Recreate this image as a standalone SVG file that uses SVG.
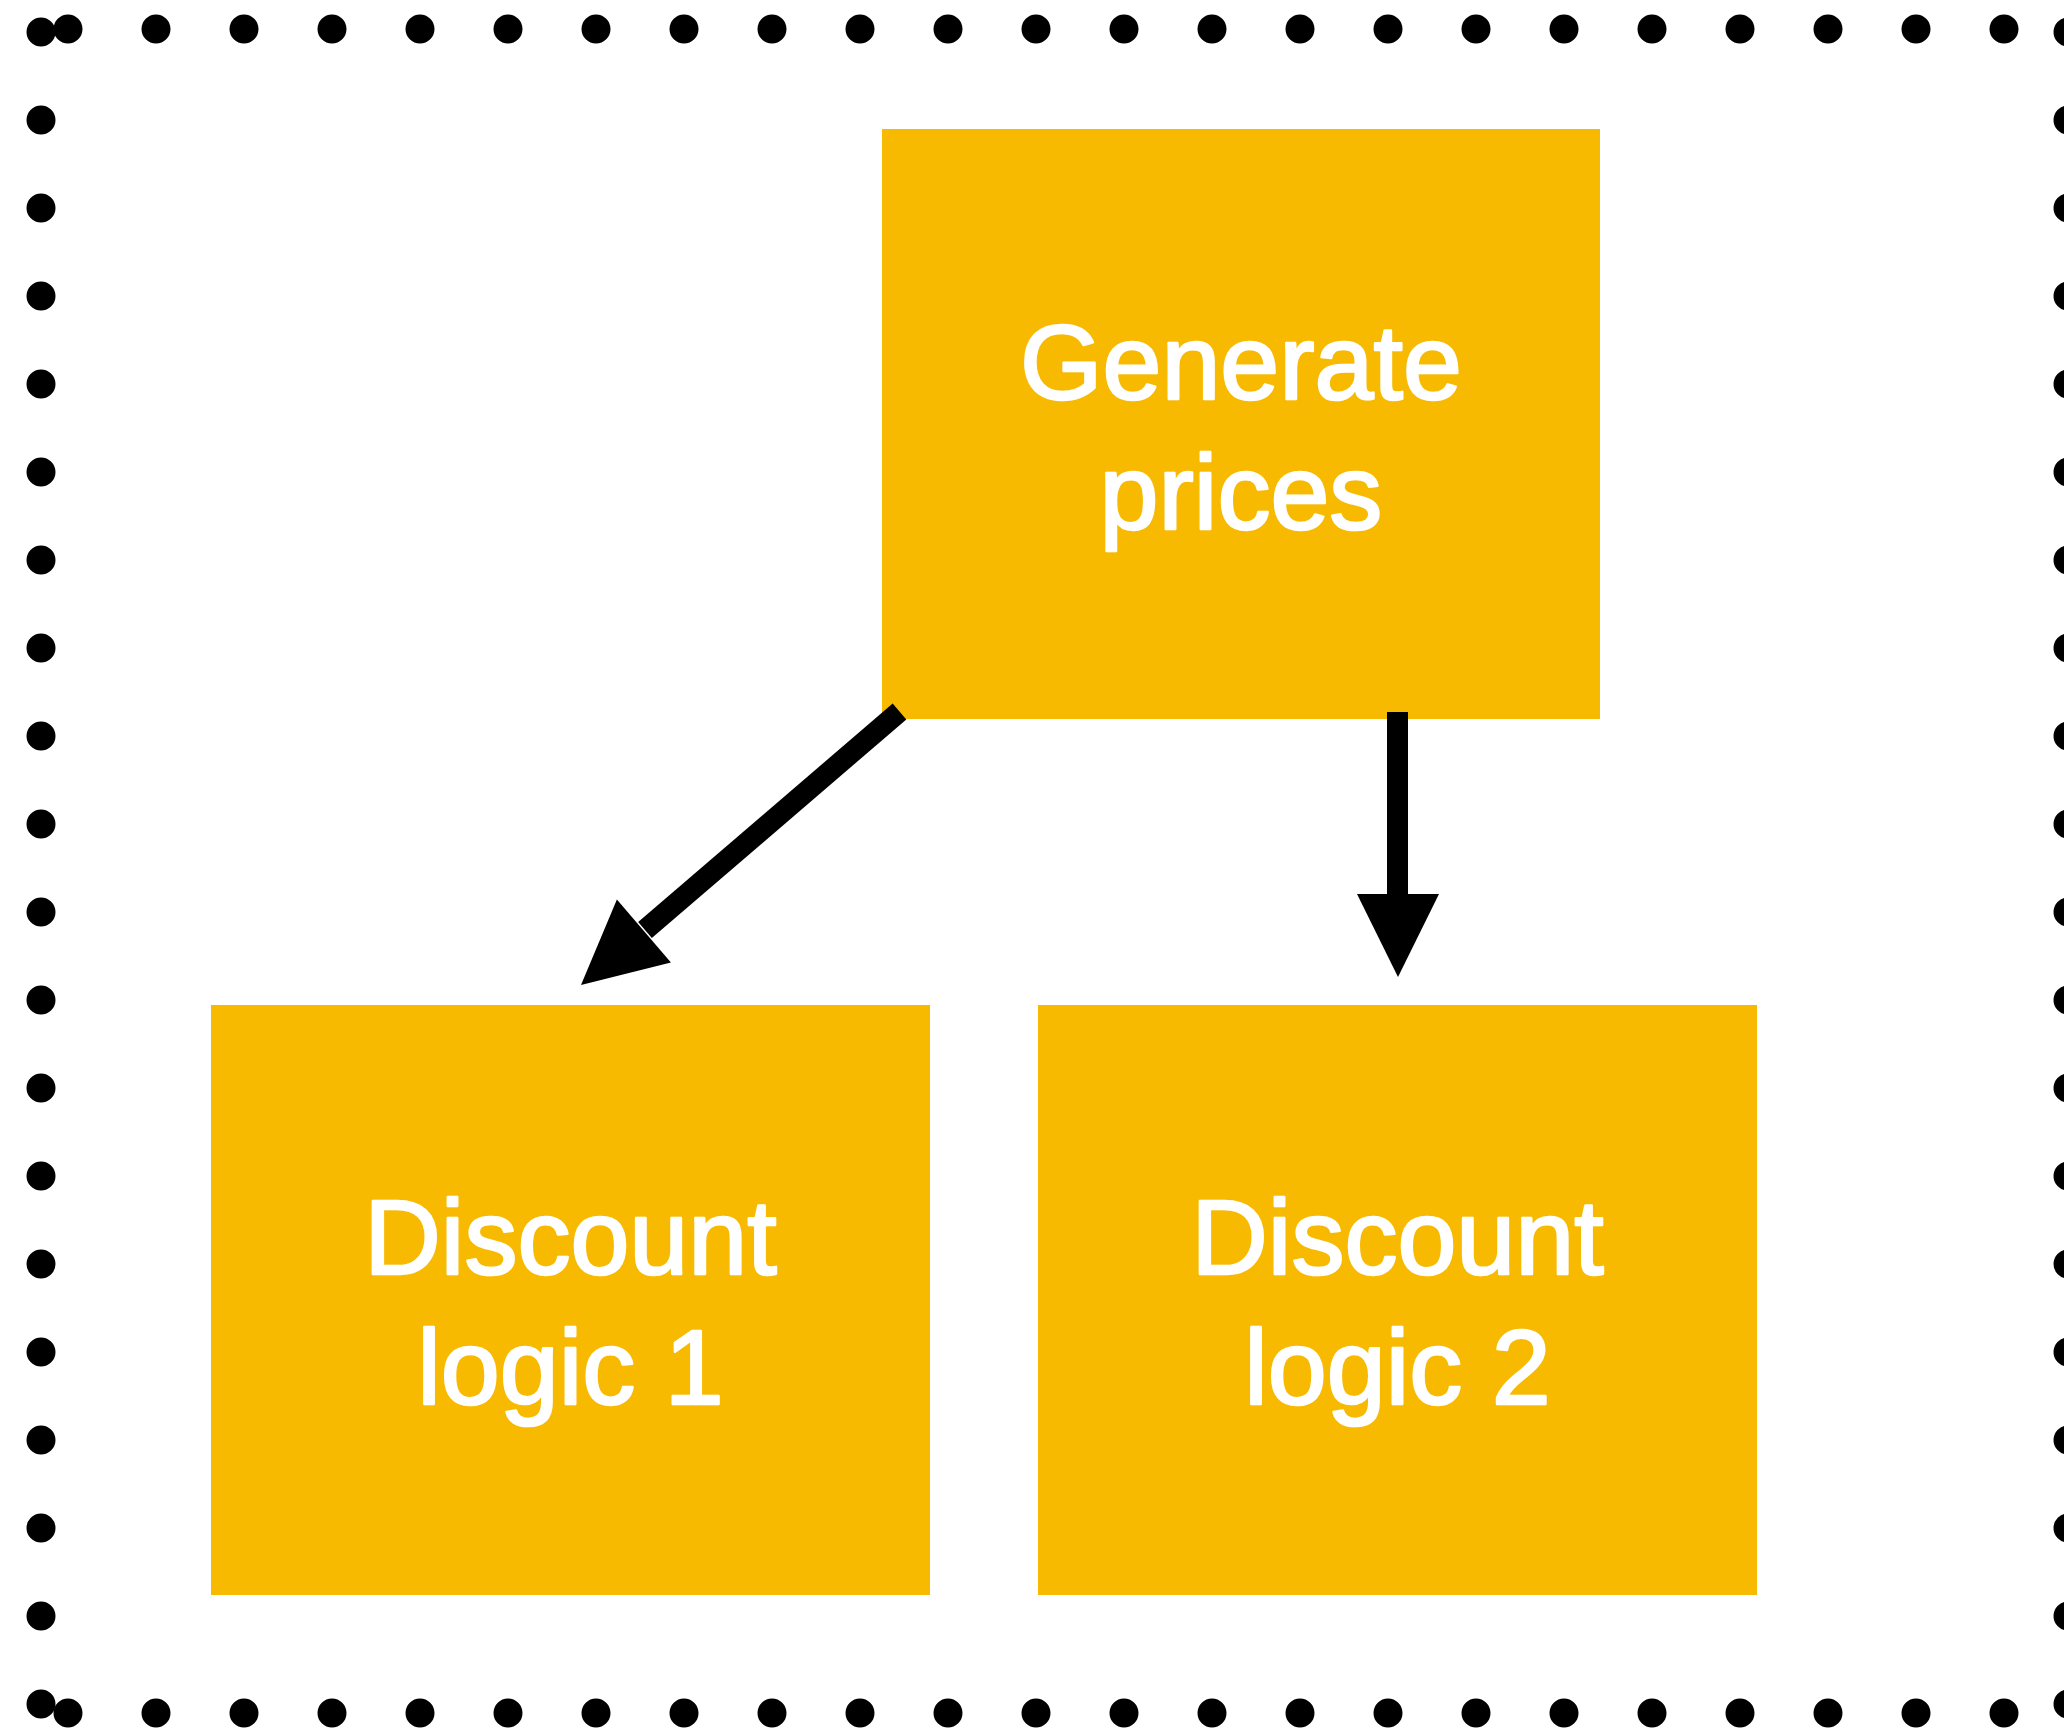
<svg xmlns="http://www.w3.org/2000/svg" width="2064" height="1728" viewBox="0 0 2064 1728">
  <style>
    .dots { stroke: #000; stroke-width: 29; stroke-linecap: round; stroke-dasharray: 0 88; fill: none; }
    .box { fill: #F7BA00; }
    .label { font-family: "Liberation Sans", Arial, Helvetica, sans-serif; font-size: 106px; fill: #FFFFFF; stroke: #FFFFFF; stroke-width: 2.5; stroke-linejoin: round; text-anchor: middle; }
    .shaft { stroke: #000; stroke-width: 21; fill: none; }
    .head { fill: #000; }
  </style>
  <rect width="2064" height="1728" fill="#FFFFFF"/>
  <g id="frame">
    <path class="dots" d="M68,29 H2005"/>
    <path class="dots" d="M68,1713 H2005"/>
    <path class="dots" d="M41,32 V1705"/>
    <path class="dots" d="M2068,32 V1705"/>
  </g>
  <g id="node-generate">
    <rect class="box" x="882" y="129" width="718" height="590"/>
    <text class="label" x="1241" y="399">Generate</text>
    <text class="label" x="1241" y="529">prices</text>
  </g>
  <g id="node-discount1">
    <rect class="box" x="211" y="1005" width="719" height="590"/>
    <text class="label" x="570.5" y="1274">Discount</text>
    <text class="label" x="570.5" y="1404">logic 1</text>
  </g>
  <g id="node-discount2">
    <rect class="box" x="1038" y="1005" width="719" height="590"/>
    <text class="label" x="1397.5" y="1274">Discount</text>
    <text class="label" x="1397.5" y="1404">logic 2</text>
  </g>
  <g id="connectors">
    <line class="shaft" x1="899.5" y1="711.5" x2="645" y2="930"/>
    <polygon class="head" points="581,985 616.9,899.5 670.9,962.5"/>
    <line class="shaft" x1="1397.5" y1="712" x2="1397.5" y2="896"/>
    <polygon class="head" points="1357,894 1439,894 1398,977"/>
  </g>
</svg>
